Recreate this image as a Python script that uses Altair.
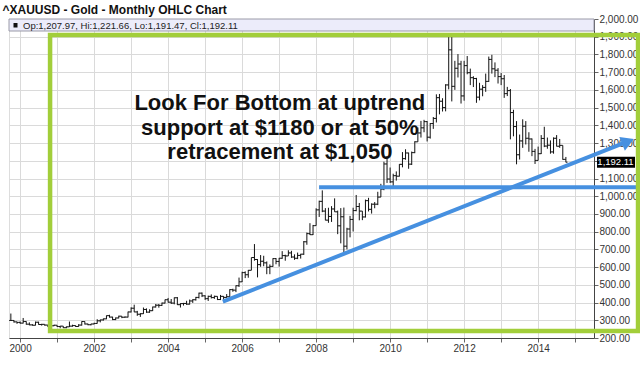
import altair as alt
import pandas as pd

# ---- data (monthly OHLC, Oct 1999 .. Oct 2014) ----
months = pd.period_range("1999-10", "2014-10", freq="M")

opens = [
    299, 299, 291,
    288, 284, 293, 278, 274, 272, 289, 276, 277, 273, 264, 269,
    272, 265, 267, 258, 263, 267, 270, 265, 273, 293, 279, 275,
    279, 282, 297, 302, 308, 326, 318, 304, 313, 323, 317, 318,
    347, 368, 347, 334, 337, 361, 346, 354, 375, 385, 384, 397,
    416, 402, 397, 427, 388, 394, 395, 391, 409, 416, 429, 453,
    438, 422, 435, 428, 435, 417, 435, 429, 433, 473, 470, 495,
    517, 569, 557, 582, 654, 643, 614, 633, 624, 599, 604, 648,
    632, 650, 665, 663, 680, 657, 650, 666, 673, 743, 789, 783,
    834, 923, 971, 916, 865, 886, 928, 912, 833, 884, 718, 815,
    869, 919, 942, 916, 883, 975, 926, 955, 955, 995, 1040, 1182,
    1097, 1081, 1116, 1113, 1180, 1212, 1244, 1181, 1246, 1307, 1357, 1386,
    1421, 1333, 1410, 1439, 1556, 1536, 1500, 1628, 1826, 1620, 1722, 1746,
    1566, 1737, 1697, 1669, 1664, 1559, 1604, 1614, 1648, 1772, 1719, 1711,
    1675, 1663, 1579, 1596, 1472, 1393, 1234, 1312, 1395, 1327, 1323, 1253,
    1202, 1240, 1326, 1283, 1288, 1250, 1327, 1282, 1287, 1207.97,
]
highs = [
    338, 301, 292,
    293, 313, 294, 288, 278, 293, 292, 280, 277, 274, 271, 275,
    272, 268, 267, 265, 293, 275, 271, 278, 294, 293, 281, 280,
    286, 306, 304, 310, 327, 331, 320, 316, 326, 323, 322, 349,
    373, 388, 353, 340, 372, 367, 362, 377, 392, 392, 400, 417,
    426, 420, 429, 431, 396, 398, 410, 417, 419, 432, 456, 457,
    441, 439, 446, 439, 435, 443, 436, 448, 475, 478, 497, 541,
    574, 576, 584, 654, 730, 645, 668, 664, 632, 615, 650, 651,
    652, 690, 670, 695, 692, 672, 682, 675, 747, 795, 848, 838,
    932, 975, 1033, 933, 935, 944, 988, 919, 933, 936, 822, 889,
    935, 1007, 962, 916, 981, 991, 960, 967, 1025, 1070, 1195, 1227,
    1162, 1127, 1140, 1181, 1249, 1265, 1246, 1252, 1310, 1388, 1425, 1431,
    1424, 1413, 1447, 1575, 1577, 1553, 1632, 1913, 1921, 1764, 1802, 1764,
    1764, 1791, 1720, 1677, 1668, 1640, 1627, 1692, 1788, 1798, 1755, 1723,
    1695, 1684, 1617, 1605, 1488, 1424, 1348, 1434, 1424, 1361, 1326, 1267,
    1280, 1345, 1392, 1331, 1315, 1332, 1345, 1323, 1287, 1221.66,
]
lows = [
    297, 287, 280,
    281, 282, 275, 272, 270, 271, 275, 270, 269, 263, 262, 267,
    262, 255, 256, 255, 262, 264, 263, 264, 270, 276, 272, 271,
    277, 281, 288, 298, 306, 315, 301, 301, 311, 312, 315, 316,
    344, 346, 325, 319, 336, 342, 342, 352, 372, 371, 381, 395,
    400, 392, 390, 386, 372, 383, 387, 389, 398, 411, 423, 431,
    415, 409, 423, 421, 414, 414, 416, 427, 432, 461, 459, 488,
    516, 538, 540, 582, 636, 542, 602, 605, 560, 560, 602, 616,
    603, 647, 636, 663, 652, 641, 645, 648, 669, 726, 781, 781,
    834, 883, 910, 864, 850, 855, 912, 786, 734, 681, 700, 768,
    801, 915, 864, 865, 880, 914, 902, 932, 950, 995, 1034, 1075,
    1075, 1045, 1088, 1111, 1163, 1206, 1155, 1176, 1243, 1307, 1331, 1361,
    1309, 1325, 1380, 1416, 1462, 1478, 1479, 1603, 1535, 1600, 1670, 1523,
    1539, 1688, 1627, 1616, 1527, 1541, 1564, 1589, 1645, 1692, 1672, 1636,
    1627, 1555, 1565, 1321, 1338, 1180, 1207, 1273, 1292, 1251, 1226, 1182,
    1202, 1238, 1277, 1268, 1240, 1240, 1281, 1273, 1206, 1191.47,
]
closes = [
    299, 291, 288,
    284, 293, 278, 274, 272, 289, 276, 277, 273, 264, 269, 272,
    265, 267, 258, 263, 267, 270, 265, 273, 293, 279, 275, 279,
    282, 297, 302, 308, 326, 318, 304, 313, 323, 317, 318, 347,
    368, 347, 334, 337, 361, 346, 354, 375, 385, 384, 397, 416,
    402, 397, 427, 388, 394, 395, 391, 409, 416, 429, 453, 438,
    422, 435, 428, 435, 417, 435, 429, 433, 473, 470, 495, 517,
    569, 557, 582, 654, 643, 614, 633, 624, 599, 604, 648, 632,
    650, 665, 663, 680, 657, 650, 666, 673, 743, 789, 783, 834,
    923, 971, 916, 865, 886, 928, 912, 833, 884, 718, 815, 869,
    919, 942, 916, 883, 975, 926, 955, 955, 995, 1040, 1182, 1097,
    1081, 1116, 1113, 1180, 1212, 1244, 1181, 1246, 1307, 1357, 1386, 1421,
    1333, 1410, 1439, 1556, 1536, 1500, 1628, 1826, 1620, 1722, 1746, 1566,
    1737, 1697, 1669, 1664, 1559, 1604, 1614, 1648, 1772, 1719, 1711, 1675,
    1663, 1579, 1596, 1472, 1393, 1234, 1312, 1395, 1327, 1323, 1253, 1202,
    1240, 1326, 1283, 1288, 1250, 1327, 1282, 1287, 1208, 1192.11,
]

title_text = "^XAUUSD - Gold - Monthly OHLC Chart"
header_text = "Op:1,207.97, Hi:1,221.66, Lo:1,191.47, Cl:1,192.11"
note_text = "Look For Bottom at uptrend\nsupport at $1180 or at 50%\nretracement at $1,050"
year_ticks = list(range(2000, 2016))
price_ticks = list(range(200, 2001, 100))
hidden_price_label = 1200  # covered by the last-price box

# annotation geometry (data coordinates)
trend_x = [2005.48, 2016.43]
trend_y = [405, 1309]
hline_x = [2008.08, 2016.75]
hline_y = 1050
box_x = [2000.81, 2016.70]
box_y = [239.5, 1909.7]
note_pos = (2007.02, 1526)

BLUE = "#4690E0"
GREEN = "#A2CE3A"
FONT = "Liberation Sans"

df = pd.DataFrame({
    "t": [p.year + (p.month - 1) / 12 for p in months],
    "o": opens, "h": highs, "l": lows, "c": closes,
})

xs = alt.Scale(domain=[1999.70, 2015.51], nice=False, zero=False)
ys = alt.Scale(domain=[200, 2000], nice=False, zero=False)

xaxis = alt.Axis(values=year_ticks, labelExpr="datum.value % 2 == 0 ? datum.label : ''",
                 format="d", title=None, grid=True, gridColor="#dadada", tickSize=4,
                 labelPadding=1, labelFont=FONT, labelFontSize=10, labelColor="#333",
                 labelOverlap=False, domainColor="#444", tickColor="#666")
yaxis = alt.Axis(values=price_ticks, format=",.2f", orient="right", title=None, grid=True,
                 labelExpr=f"datum.value == {hidden_price_label} ? '' : datum.label",
                 gridColor="#dadada", tickSize=4, labelPadding=1, labelFont=FONT,
                 labelFontSize=10, labelColor="#333", labelOverlap=False,
                 domainColor="#444", tickColor="#666")


def X(f):
    return alt.X(f, scale=xs, axis=xaxis)


def Y(f):
    return alt.Y(f, scale=ys, axis=yaxis)


base = alt.Chart(df)
hl = base.mark_rule(color="#111", strokeWidth=1).encode(x=X("t:Q"), y=Y("l:Q"), y2="h:Q")
open_tick = base.transform_calculate(tl="datum.t - 0.045").mark_rule(color="#111", strokeWidth=1).encode(
    x=X("tl:Q"), x2="t:Q", y=Y("o:Q"))
close_tick = base.transform_calculate(tr="datum.t + 0.045").mark_rule(color="#111", strokeWidth=1).encode(
    x=X("t:Q"), x2="tr:Q", y=Y("c:Q"))

one = pd.DataFrame({"a": [0]})
title_mark = alt.Chart(pd.DataFrame({"s": [title_text]})).mark_text(
    align="left", baseline="alphabetic", font=FONT, fontSize=12, fontWeight="bold",
    color="#111").encode(x=alt.value(-6.5), y=alt.value(-5.5), text="s:N")
hdr = alt.Chart(one).mark_rect(fill="#ECECFA", stroke="#9a9aa8", strokeWidth=1).encode(
    x=alt.value(0), x2=alt.value(585), y=alt.value(0), y2=alt.value(12))
hdr_sq = alt.Chart(one).mark_rect(fill="#111").encode(
    x=alt.value(4.5), x2=alt.value(8.5), y=alt.value(4), y2=alt.value(8.5))
hdr_txt = alt.Chart(pd.DataFrame({"s": [header_text]})).mark_text(
    align="left", baseline="middle", font=FONT, fontSize=9.5, color="#222").encode(
    x=alt.value(14), y=alt.value(6.5), text="s:N")

hline = alt.Chart(pd.DataFrame({"x": [hline_x[0]], "x2": [hline_x[1]], "y": [hline_y]})).mark_rule(
    color=BLUE, strokeWidth=4).encode(x=X("x:Q"), x2="x2:Q", y=Y("y:Q"))
trend = alt.Chart(pd.DataFrame({"x": [trend_x[0]], "x2": [trend_x[1]], "y": [trend_y[0]], "y2": [trend_y[1]]})).mark_rule(
    color=BLUE, strokeWidth=4).encode(x=X("x:Q"), x2="x2:Q", y=Y("y:Q"), y2="y2:Q")
arrow = alt.Chart(pd.DataFrame({"x": [trend_x[1]], "y": [trend_y[1]]})).mark_point(
    shape="triangle-right", filled=True, size=220, angle=338, color=BLUE, opacity=1).encode(
    x=X("x:Q"), y=Y("y:Q"))

note = alt.Chart(pd.DataFrame({"x": [note_pos[0]], "y": [note_pos[1]], "s": [note_text]})).mark_text(
    align="center", baseline="middle", font=FONT, fontSize=22, fontWeight="bold",
    color="#111", lineBreak="\n", lineHeight=24.5).encode(x=X("x:Q"), y=Y("y:Q"), text="s:N")

green = alt.Chart(pd.DataFrame({"x": [box_x[0]], "x2": [box_x[1]], "y": [box_y[0]], "y2": [box_y[1]]})).mark_rect(
    fillOpacity=0, stroke=GREEN, strokeWidth=4.5).encode(x=X("x:Q"), x2="x2:Q", y=Y("y:Q"), y2="y2:Q")

last = pd.DataFrame({"c": [closes[-1]], "s": [f"{closes[-1]:,.2f}"]})
plabel_bg = alt.Chart(last).transform_calculate(a="datum.c + 31", b="datum.c - 31").mark_rect(
    fill="#000").encode(x=alt.value(588), x2=alt.value(626), y=Y("a:Q"), y2="b:Q")
plabel = alt.Chart(last).mark_text(align="center", baseline="middle", font=FONT, fontSize=9.5,
                                   color="#fff").encode(x=alt.value(606.5), y=Y("c:Q"), text="s:N")

chart = alt.layer(
    hl, open_tick, close_tick, title_mark, hdr, hdr_sq, hdr_txt, hline, trend, arrow, note, green,
    plabel_bg, plabel,
).properties(
    width=585, height=319,
    autosize=alt.AutoSizeParams(type="none"),
    padding={"left": 9, "top": 19, "right": 46, "bottom": 38},
).configure_view(stroke="#444", strokeWidth=1).configure(background="white")

chart.save("out.html", embed_options={"renderer": "svg", "actions": False})
